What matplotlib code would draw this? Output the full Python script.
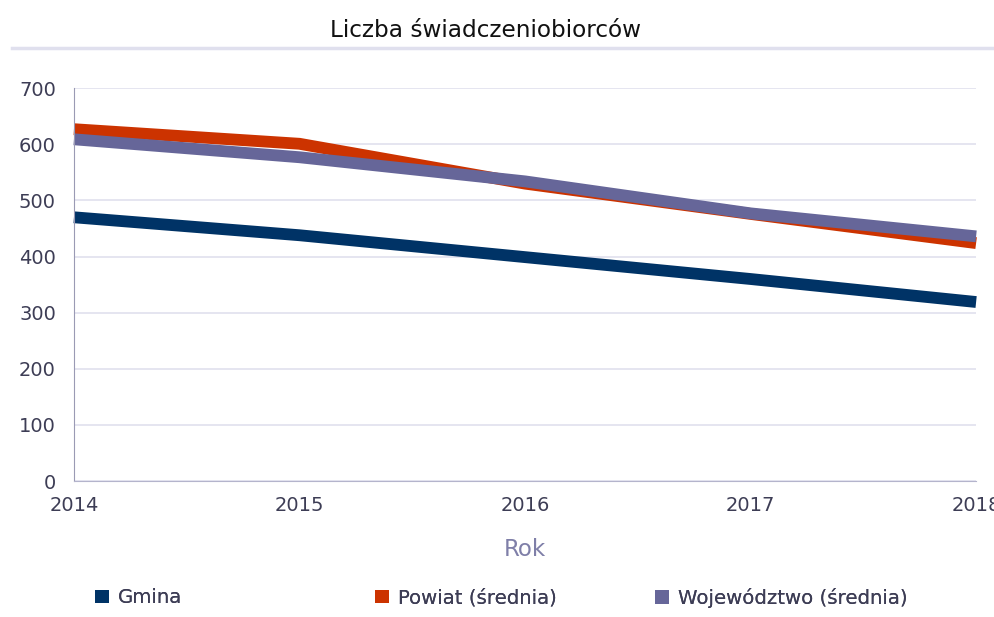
import matplotlib.pyplot as plt
from matplotlib.patches import Patch
from matplotlib.lines import Line2D

# dane
years = [2014, 2015, 2016, 2017, 2018]
gmina = [470, 438, 399, 360, 319]
powiat = [627, 601, 530, 476, 424]
wojewodztwo = [609, 577, 534, 477, 436]

labels = ["Gmina", "Powiat (średnia)", "Województwo (średnia)"]
colors = ["#003366", "#cc3300", "#666699"]

plt.rcParams["font.family"] = ["DejaVu Sans"]

fig = plt.figure(figsize=(9.94, 6.17), dpi=100)
ax = fig.add_axes([0.0744, 0.2204, 0.9076, 0.6366])

for vals, c in zip([gmina, powiat, wojewodztwo], colors):
    ax.plot(years, vals, color=c, lw=8.5, solid_capstyle="butt",
            solid_joinstyle="miter", clip_on=False)

ax.set_xlim(2014, 2018)
ax.set_ylim(0, 700)
ax.set_xticks(years)
ax.set_yticks(range(0, 701, 100))
ax.grid(axis="y", color="#e0e0ee", lw=1.2)
ax.set_axisbelow(True)
ax.tick_params(length=0, labelsize=14, colors="#3d3d55")
ax.tick_params(axis="y", pad=13)
ax.tick_params(axis="x", pad=11)
for s in ["top", "right"]:
    ax.spines[s].set_visible(False)
ax.spines["left"].set_color("#9a9ab4")
ax.spines["bottom"].set_color("#b4b4cc")

ax.set_xlabel("Rok", fontsize=16.5, color="#7f7fa8", labelpad=16)

fig.text(0.488, 0.951, "Liczba świadczeniobiorców", ha="center", va="center",
         fontsize=16.7, color="#111111")
fig.add_artist(Line2D([0.012, 1.0], [0.922, 0.922], transform=fig.transFigure,
                      color="#e0e0ee", lw=2.5))

# legenda - trzy osobne wpisy w stałych miejscach
leg_x = [95, 375, 655]
for lx, lab, c in zip(leg_x, labels, colors):
    leg = fig.legend([Patch(facecolor=c, edgecolor="none")], [lab],
                     loc="center left", bbox_to_anchor=(lx / 994, 0.031),
                     frameon=False, fontsize=14.2, handlelength=0.7,
                     handleheight=0.7, handletextpad=0.45, borderpad=0,
                     borderaxespad=0, labelcolor="#3d3d55")
    fig.add_artist(leg)

fig.savefig("out.png", dpi=100)
